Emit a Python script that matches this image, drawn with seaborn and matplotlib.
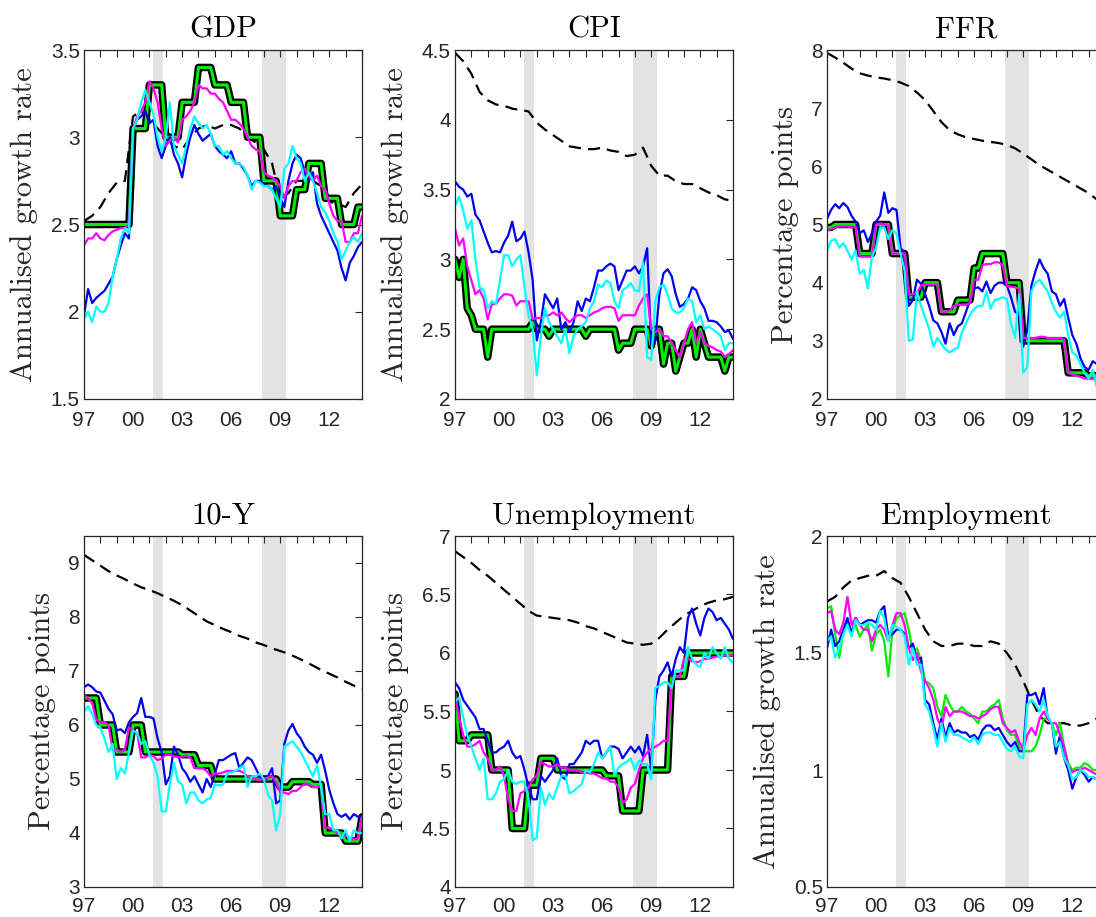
import numpy as np
import pandas as pd
import matplotlib
matplotlib.use("Agg")
import matplotlib.pyplot as plt
import seaborn as sns

# ---------------- data ----------------
# quarterly observations 1997Q1 .. 2014Q1 (69 points); dashed series semiannual (35 points)
n_quarters = 69
n_half = 35
year_start = 1997
years_q = year_start + np.arange(n_quarters) * 0.25
years_h = year_start + np.arange(n_half) * 0.5

titles = ["GDP", "CPI", "FFR", "10-Y", "Unemployment", "Employment"]
ylabels = ["Annualised growth rate", "Annualised growth rate", "Percentage points",
           "Percentage points", "Percentage points", "Annualised growth rate"]
ylims = [(1.5, 3.5), (2.0, 4.5), (2.0, 8.0), (3.0, 9.5), (4.0, 7.0), (0.5, 2.0)]
yticks = [[1.5, 2, 2.5, 3, 3.5], [2, 2.5, 3, 3.5, 4, 4.5], [2, 3, 4, 5, 6, 7, 8],
          [3, 4, 5, 6, 7, 8, 9], [4, 4.5, 5, 5.5, 6, 6.5, 7], [0.5, 1, 1.5, 2]]
xtick_years = list(range(1997, 2015))
xtick_labels = ["97", "", "", "00", "", "", "03", "", "", "06", "", "", "09", "", "", "12", "", ""]
recessions = [(2001.2, 2001.85), (2007.9, 2009.37)]

gdp_step = [2.5,2.5,2.5,2.5,2.5,2.5,2.5,2.5,2.5,2.5,2.5,2.5,
            3.05,3.05,3.05,3.05, 3.3,3.3,3.3,3.3, 3.0,3.0,3.0,3.0, 3.2,3.2,3.2,3.2,
            3.4,3.4,3.4,3.4, 3.3,3.3,3.3,3.3, 3.2,3.2,3.2,3.2, 3.0,3.0,3.0,3.0,
            2.75,2.75,2.75,2.75, 2.55,2.55,2.55,2.55, 2.7,2.7,2.7, 2.85,2.85,2.85,2.85,
            2.65,2.65,2.65,2.65, 2.5,2.5,2.5,2.5, 2.6,2.6]
gdp_magenta = [2.38,2.42,2.42,2.45,2.42,2.41,2.44,2.46,2.47,2.48,2.48,2.5,
               3.05,3.12,3.15,3.2, 3.32,3.28,3.2,3.05, 2.95,2.98,3.0,2.97, 3.1,3.12,3.15,3.2,
               3.3,3.28,3.28,3.25, 3.25,3.22,3.2,3.15, 3.1,3.1,3.08,3.05, 3.0,2.95,2.93,2.92,
               2.8,2.78,2.77,2.75, 2.72,2.65,2.72,2.75, 2.75,2.8,2.82,2.78, 2.75,2.78,2.72,2.7,
               2.62,2.55,2.52,2.52, 2.4,2.4,2.45,2.45, 2.55]
gdp_blue = [1.98,2.13,2.05,2.08,2.1,2.12,2.16,2.2,2.3,2.38,2.45,2.42,
            3.05,3.1,3.12,3.15, 3.08,3.1,2.95,2.88, 2.95,3.0,2.9,2.85, 2.77,2.9,3.0,3.07,
            3.02,2.98,3.0,3.02, 2.95,2.92,2.9,2.88, 2.92,2.85,2.85,2.82, 2.78,2.72,2.75,2.75,
            2.73,2.72,2.7,2.72, 2.65,2.6,2.75,2.85, 2.9,2.88,2.8,2.75, 2.8,2.62,2.55,2.5,
            2.45,2.4,2.35,2.25, 2.18,2.28,2.32,2.37, 2.4]
gdp_cyan = [1.96,2.0,1.94,2.03,2.0,2.0,2.05,2.2,2.3,2.42,2.48,2.45,
            3.05,3.1,3.2,3.27, 3.2,3.13,3.0,2.92, 3.0,3.2,2.95,2.9, 2.85,2.95,3.05,3.12,
            3.08,3.05,3.07,3.02, 2.95,2.95,2.9,2.92, 2.88,2.85,2.85,2.83, 2.78,2.7,2.75,2.74,
            2.72,2.72,2.7,2.65, 2.6,2.82,2.85,2.95, 2.88,2.85,2.75,2.8, 2.75,2.68,2.6,2.57,
            2.52,2.45,2.4,2.3, 2.35,2.4,2.43,2.4, 2.45]
gdp_dash = [2.52,2.55,2.6,2.68,2.74,2.75,3.12,3.15,3.1,3.05,3.0,2.95,2.93,3.0,3.05,3.07,3.05,
            3.07,3.07,3.05,3.0,2.97,2.93,2.85,2.65,2.68,2.75,2.75,2.75,2.72,2.63,2.62,2.6,2.68,2.73]

cpi_step = [3.0,2.87,3.0,2.65, 2.6,2.5,2.5,2.5, 2.3,2.5,2.5,2.5, 2.5,2.5,2.5,2.5,
            2.5,2.5,2.5,2.55, 2.5,2.5,2.5,2.45, 2.5,2.5,2.5,2.5, 2.5,2.5,2.5,2.5,
            2.45,2.5,2.5,2.5, 2.5,2.5,2.5,2.5, 2.35,2.4,2.4,2.4, 2.5,2.5,2.5,2.5,
            2.38,2.5,2.5,2.25, 2.4,2.4,2.2,2.3, 2.4,2.4,2.5,2.3, 2.5,2.4,2.3,2.3,
            2.3,2.3,2.2,2.3, 2.3]
cpi_magenta = [3.22,3.1,3.15,2.95, 2.85,2.75,2.78,2.72, 2.57,2.68,2.68,2.72, 2.75,2.75,2.74,2.67,
               2.7,2.7,2.7,2.57, 2.58,2.58,2.6,2.6, 2.62,2.6,2.62,2.58, 2.55,2.58,2.6,2.6,
               2.58,2.6,2.62,2.63, 2.65,2.66,2.66,2.65, 2.56,2.6,2.6,2.6, 2.6,2.67,2.72,2.75,
               2.5,2.48,2.5,2.45, 2.45,2.4,2.35,2.3, 2.4,2.5,2.55,2.4, 2.48,2.4,2.38,2.37,
               2.35,2.34,2.3,2.32, 2.35]
cpi_blue = [3.56,3.52,3.5,3.45, 3.47,3.32,3.28,3.2, 3.12,3.05,3.06,3.05, 3.12,3.17,3.27,3.13,
            3.15,3.2,3.05,2.85, 2.42,2.55,2.75,2.7, 2.65,2.72,2.5,2.55, 2.48,2.55,2.7,2.63,
            2.72,2.7,2.8,2.92, 2.92,2.95,2.97,2.95, 2.78,2.85,2.92,2.92, 2.95,2.9,2.95,3.08,
            2.38,2.42,2.75,2.9, 2.93,2.88,2.75,2.66, 2.68,2.72,2.8,2.78, 2.7,2.65,2.56,2.56,
            2.55,2.52,2.48,2.49, 2.43]
cpi_cyan = [3.38,3.45,3.35,3.22, 3.28,3.0,2.8,2.78, 2.65,2.7,2.68,2.85, 3.03,3.03,2.95,3.0,
            3.03,2.8,2.6,2.5, 2.17,2.45,2.65,2.55, 2.5,2.45,2.4,2.5, 2.33,2.45,2.5,2.52,
            2.55,2.65,2.7,2.82, 2.8,2.85,2.83,2.7, 2.65,2.78,2.8,2.83, 2.78,2.77,2.98,2.3,
            2.28,2.7,2.8,2.82, 2.75,2.65,2.62,2.62, 2.65,2.72,2.7,2.55, 2.6,2.5,2.52,2.5,
            2.48,2.45,2.35,2.4, 2.4]
cpi_dash = [4.48,4.42,4.33,4.2,4.14,4.11,4.1,4.08,4.07,4.06,3.98,3.93,3.89,3.85,3.81,3.8,3.79,
            3.79,3.8,3.78,3.77,3.74,3.75,3.8,3.67,3.6,3.6,3.56,3.54,3.54,3.51,3.48,3.46,3.43,3.42]

ffr_step = [4.95,4.95,5.0,5.0, 5.0,5.0,5.0,5.0, 4.5,4.5,4.5,4.5, 5.0,5.0,5.0,5.0,
            4.5,4.5,4.5,4.5, 3.75,3.75,3.75,3.75, 4.0,4.0,4.0,4.0, 3.5,3.5,3.5,3.5,
            3.7,3.7,3.7,3.7, 4.25,4.25,4.5,4.5, 4.5,4.5,4.5,4.5, 4.0,4.0,4.0,4.0,
            3.0,3.0,3.0,3.0, 3.0,3.0,3.0,3.0, 3.0,3.0,3.0,2.45, 2.45,2.45,2.45,2.45,
            2.4,2.4,2.4,2.4, 2.4]
ffr_magenta = [4.9,4.92,4.95,4.97, 4.97,4.97,4.95,4.95, 4.45,4.45,4.45,4.45, 5.0,5.02,5.0,5.0,
               4.5,4.5,4.5,4.5, 3.8,3.8,3.82,3.95, 3.97,3.97,3.97,3.97, 3.5,3.5,3.52,3.6,
               3.62,3.62,3.62,3.65, 4.05,4.05,4.3,4.32, 4.32,4.35,4.35,4.3, 3.95,3.93,3.92,3.9,
               3.05,3.05,3.05,3.05, 3.07,3.07,3.05,3.05, 3.05,3.05,3.03,2.45, 2.42,2.4,2.38,2.35,
               2.35,2.35,2.35,2.35, 2.35]
ffr_blue = [5.1,5.25,5.35,5.28, 5.37,5.3,5.15,5.05, 4.85,4.9,4.7,4.85, 5.05,5.15,5.55,5.2,
            5.28,5.25,4.6,4.5, 3.6,3.7,4.05,3.98, 3.8,3.6,3.35,3.3, 3.15,2.95,3.3,3.1,
            3.25,3.3,3.5,3.7, 3.9,3.92,3.85,4.02, 3.82,3.95,4.0,4.0, 3.95,3.75,3.5,3.45,
            2.9,3.2,3.95,4.2, 4.4,4.25,4.15,3.85, 3.8,3.6,3.72,3.4, 3.1,2.95,2.7,2.55,
            2.5,2.65,2.6,2.6, 2.6]
ffr_cyan = [4.55,4.72,4.75,4.6, 4.68,4.55,4.4,4.55, 4.15,4.22,3.9,4.45, 4.6,4.95,4.95,4.75,
            4.9,4.85,4.5,4.2, 3.0,3.02,3.85,3.6, 3.4,3.2,2.9,3.05, 2.95,2.85,2.8,2.85,
            2.88,3.15,3.3,3.45, 3.55,3.6,3.6,3.85, 3.55,3.7,3.72,3.75, 3.72,3.3,3.05,3.8,
            2.45,2.55,3.85,4.0, 4.05,3.95,3.85,3.65, 3.5,3.4,3.5,3.1, 2.8,2.75,2.6,2.45,
            2.35,2.5,2.2,2.3, 2.3]
ffr_dash = [7.95,7.87,7.78,7.68,7.6,7.56,7.53,7.51,7.48,7.44,7.38,7.27,7.14,6.95,6.76,6.62,6.55,
            6.5,6.47,6.44,6.42,6.4,6.37,6.31,6.22,6.12,6.02,5.94,5.86,5.78,5.7,5.62,5.54,5.43,5.33]

ty_step = [6.5,6.5,6.5,6.5, 6.0,6.0,6.0,6.0, 5.5,5.5,5.5,5.5, 6.0,6.0,6.0,5.5,
           5.5,5.5,5.5,5.5, 5.5,5.5,5.5,5.5, 5.45,5.45,5.45,5.45, 5.25,5.25,5.25,5.25,
           5.0,5.0,5.0,5.0, 5.0,5.0,5.0,5.0, 5.0,5.0,5.0,5.0, 5.0,5.0,5.0,5.0,
           4.85,4.85,4.85,4.95, 4.95,4.95,4.95,4.95, 4.9,4.9,4.9,4.0, 4.0,4.0,4.0,4.0,
           3.85,3.85,3.85,3.85, 4.3]
ty_magenta = [6.55,6.5,6.4,6.1, 6.05,6.05,6.0,5.55, 5.55,5.5,5.55,5.95, 5.9,5.85,5.4,5.4,
              5.45,5.42,5.35,5.38, 5.45,5.45,5.42,5.4, 5.42,5.43,5.4,5.2, 5.2,5.2,5.15,5.05,
              5.1,5.1,5.12,5.15, 5.15,5.15,5.15,5.12, 5.05,5.02,5.0,4.98, 5.0,5.03,5.05,4.95,
              4.75,4.75,4.72,4.78, 4.78,4.85,4.92,4.9, 4.85,4.85,4.87,4.1, 4.1,4.05,4.0,3.95,
              3.95,3.9,3.88,3.9, 4.3]
ty_blue = [6.7,6.75,6.7,6.62, 6.6,6.45,6.3,6.2, 5.9,5.92,5.85,6.05, 6.15,6.22,6.5,6.15,
           6.15,6.12,5.75,5.5, 4.9,5.05,5.6,5.45, 5.2,5.1,4.95,5.05, 4.9,4.75,5.0,4.85,
           5.1,5.35,5.35,5.4, 5.45,5.48,5.2,5.3, 5.4,5.35,5.2,5.05, 4.95,5.05,5.2,4.55,
           4.6,5.65,5.9,6.02, 5.85,5.75,5.6,5.5, 5.45,5.3,5.45,5.15, 4.8,4.55,4.35,4.3,
           4.35,4.25,4.35,4.3, 4.3]
ty_cyan = [6.25,6.35,6.2,6.0, 5.95,5.75,5.5,5.65, 5.0,5.2,5.1,5.5, 5.9,5.85,5.65,5.7,
           5.45,5.3,5.05,4.4, 4.4,4.9,5.3,4.95, 4.9,4.55,4.75,4.75, 4.6,4.55,4.62,4.65,
           4.9,4.88,4.9,5.1, 5.12,5.15,5.2,5.25, 4.85,5.05,5.05,5.1, 5.0,4.7,4.6,4.05,
           4.35,5.6,5.65,5.7, 5.6,5.5,5.35,5.2, 5.05,5.25,4.85,4.35, 4.35,4.05,4.05,3.9,
           4.05,3.85,4.05,4.0, 4.0]
ty_dash = [9.15,9.05,8.95,8.85,8.77,8.7,8.62,8.55,8.5,8.44,8.37,8.3,8.22,8.12,8.02,7.92,7.85,
           7.78,7.72,7.65,7.6,7.53,7.48,7.42,7.37,7.32,7.25,7.18,7.1,7.02,6.95,6.88,6.8,6.73,6.67]

un_step = [5.65,5.25,5.25,5.25, 5.3,5.3,5.3,5.3, 5.3,5.0,5.0,5.0, 5.0,5.0,4.5,4.5,
           4.5,4.5,4.87,4.87, 4.87,5.1,5.1,5.1, 5.1,5.0,5.0,5.0, 5.0,5.0,5.0,5.0,
           5.0,5.0,5.0,5.0, 5.0,4.95,4.95,4.95, 4.95,4.65,4.65,4.65, 4.65,4.65,5.0,5.0,
           5.0,5.0,5.0,5.0, 5.0,5.8,5.8,5.8, 5.8,6.0,6.0,6.0, 6.0,6.0,6.0,6.0,
           6.0,6.0,6.0,6.0, 6.0]
un_magenta = [5.65,5.45,5.3,5.2, 5.2,5.22,5.25,5.15, 5.1,5.0,5.0,5.03, 4.95,4.75,4.65,4.65,
              4.8,4.82,4.85,4.92, 4.95,5.07,5.05,5.03, 5.03,5.05,5.02,5.02, 5.0,5.0,5.0,4.98,
              4.98,4.97,4.97,4.95, 4.93,4.93,4.9,4.9, 4.85,4.72,4.75,4.85, 4.88,5.0,5.1,5.15,
              5.18,5.2,5.22,5.25, 5.25,5.75,5.8,5.8, 5.95,5.95,5.93,5.92, 5.93,5.95,5.95,5.96,
              5.97,5.97,5.98,5.98, 5.98]
un_blue = [5.75,5.7,5.6,5.55, 5.5,5.45,5.35,5.35, 5.25,5.15,5.15,5.18, 5.2,5.25,5.15,5.1,
           5.12,5.0,4.85,4.75, 4.75,4.95,4.9,4.95, 5.0,5.1,4.95,4.92, 5.05,5.05,5.1,5.15,
           5.25,5.22,5.25,5.25, 5.1,5.15,5.2,5.2, 5.18,5.1,5.15,5.2, 5.15,5.2,5.12,5.3,
           5.0,5.6,5.8,5.85, 5.92,5.8,5.95,6.05, 6.0,6.3,6.38,6.25, 6.15,6.3,6.38,6.35,
           6.28,6.3,6.25,6.2, 6.12]
un_cyan = [5.58,5.62,5.45,5.3, 5.2,5.1,5.0,5.1, 4.75,4.75,4.8,4.9, 4.92,5.0,4.9,4.88,
           4.9,4.9,4.75,4.4, 4.42,4.85,4.7,4.8, 4.75,4.85,4.95,4.95, 4.8,4.82,4.85,4.88,
           5.0,4.98,5.05,5.15, 5.1,5.15,5.2,4.95, 5.02,5.05,5.07,5.1, 5.0,5.08,5.05,5.05,
           4.92,5.7,5.72,5.75, 5.75,5.7,5.85,5.85, 5.85,6.05,5.95,5.9, 5.88,6.0,5.95,6.05,
           6.0,5.95,6.05,5.95, 5.92]
un_dash = [6.87,6.82,6.77,6.71,6.66,6.6,6.54,6.48,6.42,6.36,6.32,6.31,6.3,6.29,6.28,6.26,6.23,
           6.21,6.18,6.15,6.12,6.09,6.08,6.07,6.08,6.13,6.2,6.26,6.32,6.36,6.4,6.43,6.45,6.46,6.48]

em_green = [1.69,1.7,1.58,1.48, 1.6,1.63,1.6,1.62, 1.57,1.6,1.62,1.51, 1.58,1.6,1.55,1.4,
            1.6,1.65,1.66,1.67, 1.6,1.5,1.52,1.47, 1.38,1.37,1.35,1.27, 1.23,1.32,1.28,1.25,
            1.25,1.27,1.25,1.24, 1.22,1.2,1.25,1.25, 1.27,1.28,1.3,1.22, 1.17,1.15,1.15,1.1,
            1.08,1.08,1.08,1.1, 1.15,1.22,1.22,1.2, 1.15,1.2,1.1,1.03, 1.0,1.01,1.01,1.03,
            1.02,1.0,1.0,1.0, 0.98]
em_magenta = [1.67,1.68,1.6,1.58, 1.63,1.74,1.62,1.65, 1.62,1.6,1.6,1.55, 1.6,1.62,1.6,1.55,
              1.62,1.67,1.67,1.62, 1.52,1.47,1.5,1.42, 1.38,1.35,1.3,1.22, 1.18,1.27,1.23,1.25,
              1.25,1.25,1.24,1.23, 1.23,1.22,1.23,1.24, 1.26,1.27,1.27,1.2, 1.18,1.16,1.17,1.12,
              1.09,1.15,1.18,1.15, 1.22,1.25,1.22,1.2, 1.2,1.15,1.1,1.02, 0.99,1.0,1.0,1.01,
              1.0,0.99,0.98,0.98, 0.97]
em_blue = [1.52,1.6,1.53,1.55, 1.6,1.65,1.58,1.65, 1.62,1.63,1.64,1.64, 1.63,1.68,1.7,1.57,
           1.58,1.6,1.6,1.58, 1.52,1.54,1.47,1.48, 1.3,1.28,1.2,1.13, 1.22,1.14,1.2,1.16,
           1.17,1.16,1.16,1.14, 1.15,1.13,1.17,1.19, 1.19,1.17,1.18,1.15, 1.12,1.1,1.12,1.08,
           1.08,1.32,1.32,1.33, 1.28,1.35,1.22,1.2, 1.07,1.15,1.05,1.0, 0.92,0.97,1.0,0.98,
           0.95,0.97,0.96,0.96, 0.96]
em_cyan = [1.55,1.57,1.48,1.52, 1.58,1.62,1.57,1.64, 1.62,1.62,1.63,1.62, 1.6,1.68,1.65,1.55,
           1.62,1.61,1.6,1.57, 1.45,1.52,1.45,1.45, 1.28,1.25,1.18,1.1, 1.2,1.12,1.18,1.15,
           1.15,1.14,1.13,1.12, 1.14,1.11,1.15,1.16, 1.16,1.15,1.15,1.12, 1.09,1.08,1.1,1.06,
           1.05,1.28,1.3,1.28, 1.25,1.3,1.23,1.2, 1.1,1.12,1.05,1.02, 0.96,0.97,1.0,0.99,
           0.97,0.97,0.96,0.96, 0.96]
em_dash = [1.72,1.74,1.78,1.81,1.82,1.83,1.83,1.85,1.82,1.8,1.74,1.67,1.6,1.55,1.53,1.53,1.54,
           1.54,1.53,1.53,1.55,1.54,1.5,1.45,1.38,1.3,1.23,1.2,1.2,1.2,1.19,1.19,1.2,1.22,1.25]

panels = [
    (gdp_step, gdp_magenta, gdp_blue, gdp_cyan, gdp_dash, True),
    (cpi_step, cpi_magenta, cpi_blue, cpi_cyan, cpi_dash, True),
    (ffr_step, ffr_magenta, ffr_blue, ffr_cyan, ffr_dash, True),
    (ty_step, ty_magenta, ty_blue, ty_cyan, ty_dash, True),
    (un_step, un_magenta, un_blue, un_cyan, un_dash, True),
    (em_green, em_magenta, em_blue, em_cyan, em_dash, False),
]

# ---------------- style ----------------
sns.set_theme(style="white")
plt.rcParams["font.family"] = ["Liberation Sans", "DejaVu Sans"]
TXT = "#262626"
SERIF = "cmr10"

fig = plt.figure(figsize=(10.96, 9.17), dpi=100)
W, H = 1096.0, 917.0
lefts = [84, 455, 827]
row_tops = [50, 536]
row_bottoms = [399, 887]
aw = 278

for k, (stp, mag, blu, cya, dsh, outline) in enumerate(panels):
    r, c = divmod(k, 3)
    ax = fig.add_axes([lefts[c] / W, 1 - row_bottoms[r] / H, aw / W,
                       (row_bottoms[r] - row_tops[r]) / H])
    for a, b in recessions:
        ax.axvspan(a, b, color="#e3e3e3", lw=0, zorder=0)
    sns.lineplot(x=years_h, y=dsh, ax=ax, color="black", lw=1.6, estimator=None,
                 sort=False, zorder=2)
    ax.lines[-1].set_dashes((5.5, 3.2))
    if outline:
        sns.lineplot(x=years_q, y=stp, ax=ax, color="black", lw=5.4, estimator=None,
                     sort=False, zorder=3)
        sns.lineplot(x=years_q, y=stp, ax=ax, color="#00ee00", lw=2.2, estimator=None,
                     sort=False, zorder=4)
    else:
        sns.lineplot(x=years_q, y=stp, ax=ax, color="#00ee00", lw=1.6, estimator=None,
                     sort=False, zorder=4)
    sns.lineplot(x=years_q, y=blu, ax=ax, color="#0000ee", lw=1.6, estimator=None,
                 sort=False, zorder=5)
    sns.lineplot(x=years_q, y=mag, ax=ax, color="#ff00ff", lw=1.6, estimator=None,
                 sort=False, zorder=6)
    sns.lineplot(x=years_q, y=cya, ax=ax, color="#00ffff", lw=1.6, estimator=None,
                 sort=False, zorder=7)

    ax.set_xlim(1997, 2014)
    ax.set_ylim(*ylims[k])
    ax.set_xticks(xtick_years)
    ax.set_xticklabels(xtick_labels)
    ax.set_yticks(yticks[k])
    ax.set_yticklabels([f"{v:g}" for v in yticks[k]])
    ax.tick_params(direction="in", length=5, width=0.8, top=True, right=True,
                   labelsize=15, colors=TXT)
    ax.tick_params(axis="x", pad=9 if r == 0 else 7.3)
    ax.tick_params(axis="y", pad=3)
    for s in ax.spines.values():
        s.set_color(TXT)
        s.set_linewidth(0.9)
        s.set_zorder(10)
    ax.set_xlabel("")
    ax.set_title(titles[k], fontfamily=SERIF, fontsize=22, color="black", pad=9)
    ax.set_ylabel(ylabels[k], fontfamily=SERIF, fontsize=22, color=TXT, labelpad=9)
    ax.set_facecolor("white")

fig.savefig("out.png", dpi=100)
